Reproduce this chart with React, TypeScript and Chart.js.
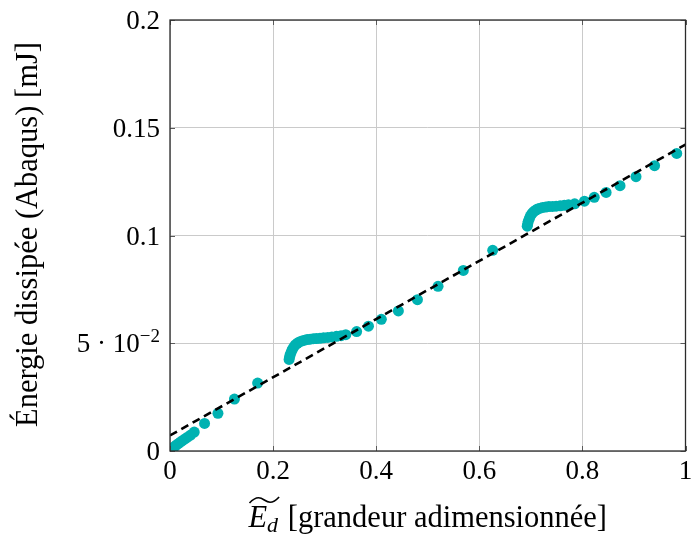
import React, { useEffect, useRef } from 'react';
import { Chart, registerables } from 'chart.js';

Chart.register(...registerables);

const xTickValues = [0, 0.2, 0.4, 0.6, 0.8, 1];
const xTickLabels = ['0', '0.2', '0.4', '0.6', '0.8', '1'];
const yTickValues = [0, 0.05, 0.1, 0.15, 0.2];
const yTickLabels = ['0', '5·10^-2', '0.1', '0.15', '0.2'];

const abaqusX = [
  0, 0.003, 0.006, 0.009, 0.012, 0.016, 0.02, 0.024, 0.029, 0.034, 0.04, 0.047,
  0.067, 0.093, 0.125, 0.17,
  0.231, 0.232, 0.233, 0.235, 0.237, 0.24, 0.243, 0.247, 0.251, 0.256, 0.261, 0.266,
  0.272, 0.278, 0.284, 0.291, 0.298, 0.306, 0.314, 0.323, 0.332, 0.341, 0.362, 0.385,
  0.41, 0.443, 0.48, 0.52, 0.569, 0.626,
  0.693, 0.694, 0.695, 0.697, 0.699, 0.702, 0.705, 0.709, 0.713, 0.718, 0.723, 0.729,
  0.735, 0.742, 0.749, 0.757, 0.765, 0.773, 0.785, 0.804, 0.823, 0.846, 0.873, 0.904,
  0.94, 0.983,
];
const abaqusY = [
  0, 0.0008, 0.0014, 0.002, 0.0027, 0.0034, 0.0041, 0.0048, 0.0056, 0.0064, 0.0074, 0.0088,
  0.0128, 0.0175, 0.0241, 0.0315,
  0.0425, 0.0436, 0.0446, 0.0458, 0.047, 0.0482, 0.0492, 0.05, 0.0506, 0.0511, 0.0514, 0.0517,
  0.0519, 0.0521, 0.0522, 0.0523, 0.0525, 0.0527, 0.0529, 0.0532, 0.0535, 0.054, 0.0554, 0.0579,
  0.0611, 0.065, 0.0702, 0.0764, 0.0838, 0.0931,
  0.1043, 0.1055, 0.1066, 0.1078, 0.109, 0.1101, 0.111, 0.1117, 0.1123, 0.1127, 0.113, 0.1132,
  0.1134, 0.1135, 0.1136, 0.1138, 0.114, 0.1143, 0.1147, 0.1159, 0.1177, 0.12, 0.1231, 0.1273,
  0.1324, 0.1381,
];

const fitX = [0, 1];
const fitY = [0.0072, 0.1422];

const FONT = '"Liberation Serif", "DejaVu Serif", serif';

const decorPlugin = {
  id: 'decor',
  afterDraw(chart: any) {
    const ctx: CanvasRenderingContext2D = chart.ctx;
    const { left, right, top, bottom } = chart.chartArea;
    const xs = chart.scales.x;
    const ys = chart.scales.y;
    ctx.save();
    // inner tick marks
    ctx.strokeStyle = '#5a5a5a';
    ctx.lineWidth = 1;
    xTickValues.forEach((v) => {
      const px = Math.round(xs.getPixelForValue(v)) + 0.5;
      ctx.beginPath();
      ctx.moveTo(px, bottom); ctx.lineTo(px, bottom - 5);
      ctx.moveTo(px, top); ctx.lineTo(px, top + 5);
      ctx.stroke();
    });
    yTickValues.forEach((v) => {
      const py = Math.round(ys.getPixelForValue(v)) + 0.5;
      ctx.beginPath();
      ctx.moveTo(left, py); ctx.lineTo(left + 5, py);
      ctx.moveTo(right, py); ctx.lineTo(right - 5, py);
      ctx.stroke();
    });
    // frame
    ctx.strokeStyle = '#2b2b2b';
    ctx.lineWidth = 1.3;
    ctx.strokeRect(left, top, right - left, bottom - top);

    ctx.fillStyle = '#000';
    ctx.textBaseline = 'alphabetic';
    const tickSize = 27;
    // x tick labels
    ctx.font = `${tickSize}px ${FONT}`;
    ctx.textAlign = 'center';
    xTickValues.forEach((v, i) => {
      const px = xs.getPixelForValue(v);
      ctx.fillText(xTickLabels[i], px, bottom + 28);
    });
    // y tick labels
    yTickValues.forEach((v, i) => {
      const py = ys.getPixelForValue(v);
      const lbl = yTickLabels[i];
      const xr = left - 10;
      const base = py + 9;
      if (lbl.includes('^')) {
        const [mainTxt, sup] = lbl.split('^');
        const mainStr = mainTxt.replace('·', ' · ');
        const supStr = sup.replace('-', '−');
        ctx.font = `${Math.round(tickSize * 0.72)}px ${FONT}`;
        const supW = ctx.measureText(supStr).width;
        ctx.textAlign = 'left';
        ctx.fillText(supStr, xr - supW, base - 10);
        ctx.font = `${tickSize}px ${FONT}`;
        ctx.textAlign = 'right';
        ctx.fillText(mainStr, xr - supW, base);
      } else {
        ctx.font = `${tickSize}px ${FONT}`;
        ctx.textAlign = 'right';
        ctx.fillText(lbl, xr, base);
      }
    });

    // x title
    const titleSize = 30.5;
    const cx = (left + right) / 2;
    const baseY = 527;
    ctx.font = `italic ${titleSize}px ${FONT}`;
    const eW = ctx.measureText('E').width;
    ctx.font = `italic ${Math.round(titleSize * 0.72)}px ${FONT}`;
    const dW = ctx.measureText('d').width;
    ctx.font = `${titleSize}px ${FONT}`;
    const rest = ' [grandeur adimensionnée]';
    const rW = ctx.measureText(rest).width;
    const total = eW + dW + 2 + rW;
    const x0 = cx - total / 2;
    ctx.textAlign = 'left';
    ctx.font = `italic ${titleSize}px ${FONT}`;
    ctx.fillText('E', x0, baseY);
    ctx.font = `italic ${Math.round(titleSize * 0.72)}px ${FONT}`;
    ctx.fillText('d', x0 + eW, baseY + 5);
    ctx.font = `${titleSize}px ${FONT}`;
    ctx.fillText(rest, x0 + eW + dW + 2, baseY);
    // wide tilde accent over E_d
    const tx0 = x0 + 1;
    const tx1 = x0 + eW + dW + 1;
    const ty = baseY - 26;
    ctx.beginPath();
    ctx.lineWidth = 1.6;
    ctx.strokeStyle = '#000';
    ctx.moveTo(tx0, ty + 2);
    ctx.bezierCurveTo(tx0 + (tx1 - tx0) * 0.25, ty - 6, tx0 + (tx1 - tx0) * 0.4, ty - 3, tx0 + (tx1 - tx0) * 0.5, ty - 1);
    ctx.bezierCurveTo(tx0 + (tx1 - tx0) * 0.6, ty + 1, tx0 + (tx1 - tx0) * 0.75, ty + 4, tx1, ty - 4);
    ctx.stroke();

    // y title
    ctx.save();
    ctx.translate(37, (top + bottom) / 2 - 1);
    ctx.rotate(-Math.PI / 2);
    ctx.font = `${titleSize}px ${FONT}`;
    ctx.textAlign = 'center';
    ctx.fillText('Énergie dissipée (Abaqus) [mJ]', 0, 0);
    ctx.restore();

    ctx.restore();
  },
};

export default function App() {
  const ref = useRef<HTMLCanvasElement | null>(null);
  useEffect(() => {
    if (!ref.current) return;
    const scatterData = abaqusX.map((x, i) => ({ x, y: abaqusY[i] }));
    const fitData = fitX.map((x, i) => ({ x, y: fitY[i] }));
    const chart = new Chart(ref.current, {
      type: 'scatter',
      data: {
        datasets: [
          {
            type: 'line',
            label: 'fit',
            data: fitData,
            borderColor: '#000',
            borderWidth: 2.6,
            borderDash: [8, 5],
            pointRadius: 0,
            fill: false,
            order: 0,
          } as any,
          {
            label: 'Abaqus',
            data: scatterData,
            backgroundColor: 'rgb(0,178,178)',
            borderWidth: 0,
            pointRadius: 5.5,
            pointHoverRadius: 5.5,
            order: 1,
          },
        ],
      },
      options: {
        responsive: false,
        animation: false,
        layout: { padding: { left: 170, right: 3, top: 20, bottom: 84 } },
        plugins: { legend: { display: false }, tooltip: { enabled: false } },
        scales: {
          x: {
            type: 'linear',
            min: 0,
            max: 1,
            ticks: { display: false, stepSize: 0.2 },
            grid: { color: '#cacaca', lineWidth: 1, drawTicks: false },
            border: { display: false },
          },
          y: {
            type: 'linear',
            min: 0,
            max: 0.2,
            ticks: { display: false, stepSize: 0.05 },
            grid: { color: '#cacaca', lineWidth: 1, drawTicks: false },
            border: { display: false },
          },
        },
      },
      plugins: [decorPlugin],
    });
    return () => chart.destroy();
  }, []);
  return (
    <div style={{ position: 'absolute', left: 0, top: 0, width: 691, height: 535, background: '#fff' }}>
      <canvas ref={ref} width={691} height={535} style={{ display: 'block' }} />
    </div>
  );
}
